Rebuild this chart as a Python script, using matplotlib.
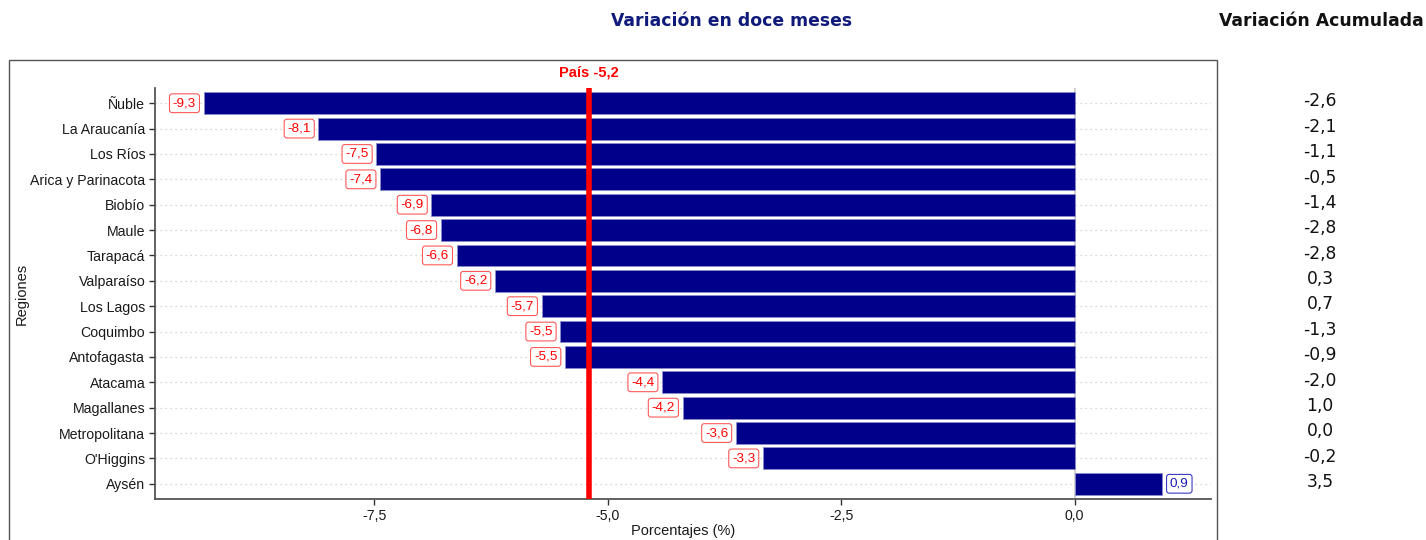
import matplotlib
matplotlib.use("Agg")
import matplotlib.pyplot as plt
import matplotlib.transforms as mtransforms
from matplotlib.patches import Rectangle

regiones = ["Ñuble", "La Araucanía", "Los Ríos", "Arica y Parinacota", "Biobío", "Maule",
            "Tarapacá", "Valparaíso", "Los Lagos", "Coquimbo", "Antofagasta", "Atacama",
            "Magallanes", "Metropolitana", "O'Higgins", "Aysén"]
var_doce = [-9.33, -8.10, -7.48, -7.44, -6.89, -6.79, -6.62, -6.21, -5.71, -5.51, -5.46, -4.42,
            -4.20, -3.63, -3.34, 0.94]
var_acum = [-2.6, -2.1, -1.1, -0.5, -1.4, -2.8, -2.8, 0.3, 0.7, -1.3, -0.9, -2.0,
            1.0, 0.0, -0.2, 3.5]
pais = -5.2
xticks = [-7.5, -5.0, -2.5, 0.0]

def fmt(v):
    return f"{v:.1f}".replace(".", ",")

plt.rcParams['font.family'] = ['Liberation Sans', 'DejaVu Sans']

W, H = 1426, 540
fig = plt.figure(figsize=(W / 100, H / 100), dpi=100)
ax = fig.add_axes([155 / W, (H - 499) / H, (1211 - 155) / W, (499 - 88) / H])

n = len(regiones)
ypos = list(range(n))
ax.set_ylim(n - 1 + 0.6, -0.6)
ax.set_xlim(-9.85, 1.46)

for y in ypos:
    ax.plot([-9.85, 1.46], [y, y], color="#c8c8c8", lw=0.9, ls=(0, (1, 3)), zorder=0)

ax.axvline(0, color="#cccccc", lw=1.2, zorder=1)
ax.barh(ypos, var_doce, height=0.86, color="#00008B", edgecolor="#8a8acc", lw=0.6, zorder=2)
ax.axvline(pais, color="#ff0000", lw=4, zorder=4)
ax.text(pais, -0.95, "País " + fmt(pais), color="#ff0000", fontsize=10.5, fontweight="bold",
        ha="center", va="bottom", clip_on=False)

for y, v in zip(ypos, var_doce):
    if v < 0:
        ax.text(v - 0.08, y, fmt(v), color="#ff0000", fontsize=9.7, ha="right", va="center", zorder=5,
                bbox=dict(boxstyle="round,pad=0.25,rounding_size=0.2", fc="white", ec="#ff5a5a", lw=0.8))
    else:
        ax.text(v + 0.08, y, fmt(v), color="#1a1ab8", fontsize=9.7, ha="left", va="center", zorder=5,
                bbox=dict(boxstyle="round,pad=0.25,rounding_size=0.2", fc="white", ec="#3a3ac0", lw=0.8))

ax.set_yticks(ypos)
ax.set_yticklabels(regiones, fontsize=10.2)
ax.set_xticks(xticks)
ax.set_xticklabels([fmt(t) for t in xticks], fontsize=10.2)
ax.tick_params(axis="both", length=4, width=1, color="#333333", labelcolor="#1a1a1a", pad=3)
for s in ["top", "right"]:
    ax.spines[s].set_visible(False)
for s in ["left", "bottom"]:
    ax.spines[s].set_color("#555555")
    ax.spines[s].set_linewidth(1.3)
ax.set_xlabel("Porcentajes (%)", fontsize=10.5, labelpad=1, color="#1a1a1a")
ax.set_ylabel("Regiones", fontsize=10.5, labelpad=1, color="#1a1a1a")

# outer panel border
fig.patches.append(Rectangle((9 / W, -0.1), (1217 - 9) / W, (H - 60) / H + 0.1,
                             transform=fig.transFigure, fill=False, ec="#555555", lw=1.0))

# titles
fig.text(732 / W, 1 - 21 / H, "Variación en doce meses", color="#0f1a7a", fontsize=12.4,
         fontweight="bold", ha="center", va="center", family="DejaVu Sans")
fig.text(1321 / W, 1 - 21 / H, "Variación Acumulada", color="#111111", fontsize=12.4,
         fontweight="bold", ha="center", va="center", family="DejaVu Sans")

trans = mtransforms.blended_transform_factory(fig.transFigure, ax.transData)
for y, v in zip(ypos, var_acum):
    ax.text(1320 / W, y - 0.07, fmt(v), transform=trans, fontsize=12.3, ha="center", va="center",
            color="#111111", clip_on=False, family="DejaVu Sans")

fig.savefig("out.png", dpi=100)
